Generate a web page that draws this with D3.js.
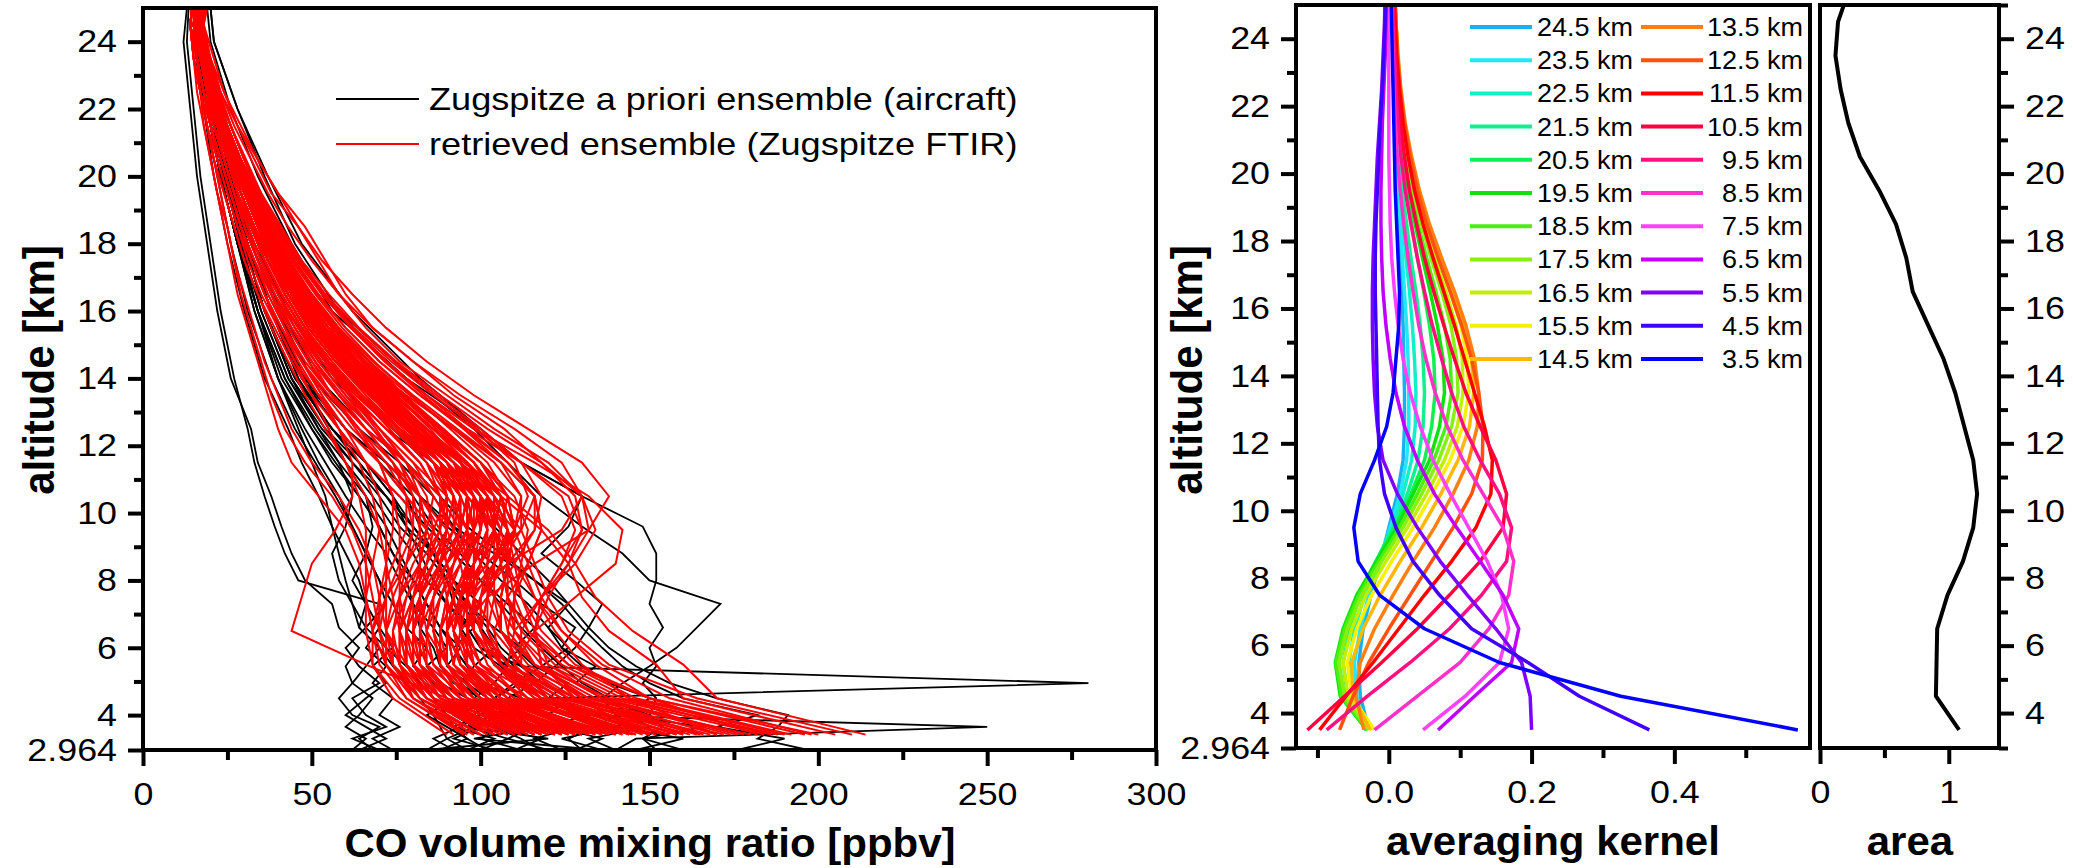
<!DOCTYPE html>
<html>
<head>
<meta charset="utf-8">
<script src="https://cdn.jsdelivr.net/npm/d3@7"></script>
<style>
  body { margin: 0; background: #fff; }
  svg { display: block; }
  text { font-family: "Liberation Sans", Arial, sans-serif; fill: #000; }
  .tick text { font-size: 32px; }
  .tl { transform-box: fill-box; transform: scaleX(1.12); }
  .title { font-size: 40px; font-weight: bold; }
</style>
</head>
<body>
<svg id="chart"></svg>
<script>
let width = 2073,
  height = 868;

let svg = d3.select("#chart").attr("width", width).attr("height", height);

// ---------- data ----------
// retrieved profiles (Zugspitze FTIR), ppbv on retrieval levels
const retrAlt = [3.42, 4.5, 5.5, 6.5, 7.5, 8.5, 9.5, 10.5, 11.5, 12.5, 13.5, 14.5, 15.5, 16.5, 17.5, 18.5, 19.5, 20.5, 21.5, 22.5, 23.5, 24.5, 25.5];
const retrieved = [
  [214,170,160,145,134,128,120,108,95,82,70,60,52,45,40,35,31,27,23,20,18,16,18],
  [205,160,152,138,130,126,118,106,94,80,68,58,50,44,38,34,30,26,22,20,17,16,17],
  [196,150,128,118,112,108,104,96,86,74,64,55,48,42,37,33,29,25,22,19,17,15,17],
  [188,140,120,110,104,100,96,90,80,70,60,52,46,40,35,31,28,25,21,19,17,15,16],
  [180,132,112,104,98,96,92,86,78,68,58,50,44,38,34,30,27,24,21,18,16,15,16],
  [172,128,108,100,96,94,90,82,72,62,54,47,41,36,32,29,26,23,20,18,16,14,16],
  [165,124,106,98,94,90,86,78,70,60,52,45,40,35,31,28,25,22,20,17,16,14,15],
  [160,118,100,94,92,90,88,82,74,64,55,47,41,36,32,28,25,22,19,17,15,14,15],
  [155,114,98,92,90,88,84,76,66,58,50,44,39,34,30,27,24,21,19,17,15,14,15],
  [150,110,96,92,94,96,94,88,78,66,56,48,42,37,33,29,26,23,20,18,16,15,16],
  [145,108,94,90,92,98,102,98,88,76,64,54,46,40,35,31,27,24,21,19,17,15,17],
  [140,106,94,92,96,104,110,106,96,82,70,59,50,43,37,32,28,25,22,19,17,15,17],
  [136,104,92,90,94,102,112,116,106,92,78,65,55,47,40,35,31,27,23,20,18,16,18],
  [132,100,90,88,90,94,100,102,96,86,74,63,54,46,40,35,30,26,23,20,17,16,17],
  [128,98,86,82,84,88,94,96,90,80,68,58,50,43,37,32,28,25,22,19,17,15,16],
  [126,96,84,80,80,82,84,82,76,68,60,52,45,39,34,30,27,24,21,18,16,14,15],
  [124,94,82,78,76,76,76,74,70,64,56,49,43,38,33,29,26,23,20,18,16,14,15],
  [122,92,80,76,74,72,70,66,60,54,48,43,38,34,30,27,24,21,19,17,15,14,15],
  [120,92,82,80,82,86,90,92,88,80,70,61,53,46,40,35,30,26,23,20,18,16,17],
  [118,90,80,78,80,84,88,88,82,72,62,54,47,41,36,32,28,25,22,19,17,15,16],
  [116,88,78,76,76,78,80,78,72,64,56,49,43,38,34,30,27,24,21,18,16,15,16],
  [114,88,80,80,84,90,96,98,92,82,72,62,53,46,40,35,31,27,23,20,18,16,17],
  [112,86,76,72,72,72,72,70,66,60,53,47,42,37,33,29,26,23,20,18,16,14,15],
  [110,86,78,76,78,82,84,82,76,68,59,51,45,40,35,31,28,25,22,19,17,15,16],
  [108,84,74,70,70,72,74,74,70,63,56,50,44,39,35,31,28,25,22,19,17,15,16],
  [106,84,76,74,76,80,86,90,88,80,70,60,52,45,39,34,30,26,23,20,18,16,17],
  [104,82,72,68,66,66,66,64,60,55,50,45,40,36,32,29,26,23,20,18,16,14,15],
  [102,84,78,78,82,88,94,96,90,80,69,59,51,44,38,33,29,26,22,19,17,15,16],
  [100,80,72,70,72,76,80,80,76,69,61,54,47,41,36,32,28,25,22,19,17,15,16],
  [98,80,74,74,78,84,90,92,86,76,66,57,49,43,37,33,29,26,22,20,17,15,16],
  [96,78,70,68,70,74,78,78,74,66,58,51,45,40,35,31,28,25,22,19,17,15,16],
  [95,78,72,72,76,82,88,90,84,74,64,56,48,42,37,32,29,25,22,19,17,15,16],
  [92,76,68,66,66,68,70,68,64,58,52,46,41,36,32,29,26,23,20,18,16,14,15],
  [90,74,68,68,72,78,84,86,80,70,61,53,46,40,35,31,27,24,21,18,16,15,15],
  [150,120,110,108,110,114,118,116,108,96,84,72,62,53,46,40,34,30,26,22,19,17,18],
  [142,118,108,110,118,128,134,130,118,102,88,75,64,55,47,41,35,30,26,22,19,17,18],
  [160,130,118,116,120,126,130,126,112,96,82,70,60,52,45,39,34,29,25,22,19,17,18],
  [176,136,120,116,118,124,128,124,112,98,84,72,62,53,46,40,34,29,25,22,19,17,18],
  [130,100,90,90,96,108,124,130,124,110,94,80,68,58,50,43,37,32,27,23,20,17,19],
  [124,100,92,94,102,116,132,138,130,114,98,84,72,62,53,46,40,34,29,24,21,18,20],
  [112,90,66,44,47,50,57,62,62,58,53,47,42,38,34,30,27,24,21,19,17,15,16],
  [150,128,118,116,118,124,130,128,118,107,92,80,68,60,54,48,40,34,28,24,20,18,19],
  [140,120,112,112,118,126,132,130,120,104,90,76,66,58,52,46,38,33,28,23,20,17,19],
  [134,106,96,94,96,100,104,102,94,82,70,60,51,44,38,34,30,26,23,20,18,16,17],
  [146,112,100,96,96,98,98,94,86,75,64,55,48,42,37,33,29,26,22,20,17,15,16],
  [168,126,108,100,98,98,98,94,86,74,63,54,47,41,36,32,28,25,22,19,17,15,16],
  [184,138,116,106,102,102,102,98,88,76,65,56,48,42,37,32,28,25,22,19,17,15,16],
  [200,150,126,114,108,106,104,98,88,76,65,55,47,41,36,32,28,25,22,19,17,15,16],
  [210,164,138,126,120,116,112,104,92,79,67,57,49,43,38,33,29,26,22,20,17,16,17],
  [192,146,126,116,112,110,108,102,92,80,69,59,51,44,38,34,30,26,23,20,18,16,17],
  [120,96,88,86,88,92,96,96,90,80,70,60,52,45,39,34,30,26,23,20,18,16,17],
  [138,104,90,84,82,82,82,80,74,66,58,51,44,39,34,31,27,24,21,19,17,15,16],
  [108,86,80,80,84,90,98,102,96,86,75,64,55,47,41,36,31,27,24,21,18,16,17],
  [156,120,104,98,98,100,104,104,98,88,76,65,56,48,42,37,32,28,24,21,18,16,17],
  [100,82,76,76,80,86,92,94,88,78,68,58,50,44,38,34,30,26,23,20,17,15,16],
  [130,112,110,116,128,140,142,132,116,98,84,72,62,53,46,40,34,30,26,22,19,17,18],
  [98,80,72,68,66,64,60,52,44,40,37,34,31,28,26,24,22,20,18,16,15,14,15],
  [104,84,74,70,68,66,62,56,48,42,38,35,32,29,27,25,22,20,18,17,15,14,15],
  [110,88,78,72,70,68,64,58,50,44,40,36,33,30,27,25,23,21,19,17,15,14,15],
  [128,102,94,92,94,98,102,100,92,80,69,59,50,43,37,33,29,25,22,19,17,15,16],
  [144,114,104,100,102,106,108,104,94,82,70,60,51,44,38,33,29,25,22,19,17,15,16],
  [118,94,86,84,86,90,94,94,88,78,68,58,50,43,38,33,29,26,22,19,17,15,16],
  [162,124,108,102,102,104,106,102,92,80,68,58,50,43,37,33,29,25,22,19,17,15,16],
  [174,134,116,108,106,108,110,106,96,84,72,61,52,45,39,34,30,26,23,20,17,15,16],
  [112,90,84,84,88,94,100,100,94,84,73,62,53,46,40,35,30,26,23,20,17,15,16],
  [126,100,90,86,86,88,90,88,82,72,62,53,46,40,35,31,27,24,21,19,17,15,16],
  [138,108,98,94,94,96,98,96,88,78,67,57,49,43,37,33,29,25,22,19,17,15,16],
  [152,118,104,98,96,96,96,92,84,74,64,55,48,42,37,33,29,25,22,19,17,15,16],
  [104,84,78,78,82,88,94,96,92,83,73,63,54,47,41,36,31,27,24,20,18,16,17],
  [132,106,98,96,100,106,112,112,104,92,79,67,57,49,42,37,32,28,24,21,18,16,17],
  [186,142,122,112,108,106,104,98,90,78,67,57,49,43,37,33,29,25,22,19,17,15,16],
  [116,92,84,82,84,88,90,88,82,73,64,55,48,42,37,33,29,25,22,19,17,15,16],
  [146,116,106,104,108,114,118,116,106,93,80,68,58,50,43,37,32,28,24,21,18,16,17],
  [122,98,90,88,90,94,98,98,92,82,71,61,52,45,39,34,30,26,23,20,17,15,16],
  [100,82,74,72,74,78,82,82,78,70,62,54,47,41,36,32,28,25,22,19,17,15,16],
  [198,156,136,124,116,110,104,96,86,74,63,54,47,41,36,32,28,25,22,19,17,15,16],
  [182,150,134,124,118,114,110,102,92,80,68,58,50,43,38,33,29,26,22,19,17,15,16],
  [170,144,130,122,116,112,108,100,90,78,67,57,49,43,37,33,29,25,22,19,17,15,16],
  [158,122,106,100,100,104,108,106,98,86,74,63,54,47,41,36.5,32,28,24.5,21,18.5,16.5,17.5],
  [142,110,98,94,94,96,98,96,90,80,70,61,53,46.5,40.5,35.5,31,27,23.5,20.5,18,16,17],
  [134,104,94,92,94,98,102,102,96,86,75,65,56,48.5,42,36.5,32,27.5,24,21,18.5,16.5,17.5],
  [126,98,88,86,88,92,96,96,90,81,71,62,54,47,41,36,31.5,27.5,24,21,18.5,16.5,17.5],
  [164,128,112,106,106,108,110,108,100,88,76,66,57,49.5,43,37.5,33,28.5,25,21.5,19,17,18],
  [178,136,118,110,108,108,108,104,96,84,73,63,55,48,42,37,32.5,28.5,25,21.5,19,17,18],
  [112,90,82,80,82,86,90,90,86,78,69,60,52.5,46,40.5,35.5,31,27,23.5,20.5,18,16,17],
  [106,86,80,80,84,90,96,98,94,85,75,65.5,57,49.5,43,37.5,32.5,28.5,24.5,21.5,18.5,16.5,17.5],
  [118,94,86,84,86,90,94,94,88,79,69.5,60.5,52.5,45.5,39.5,34.5,30.5,26.5,23,20.5,18,16,17],
  [148,116,104,100,102,106,110,108,100,88,76.5,66,57,49,42.5,37,32.5,28.5,24.5,21.5,19,17,18],
  [138,108,98,96,98,104,110,112,106,95,83,71.5,61.5,53,45.5,39.5,34.5,30,26,22.5,19.5,17.5,18.5],
  [122,98,90,90,94,100,106,108,102,91,79.5,68.5,59,51,44,38.5,33.5,29,25,22,19,17,18],
  [130,102,92,90,92,96,100,100,94,84,73.5,63.5,55,47.5,41.5,36,31.5,27.5,24,21,18.5,16.5,17.5],
  [154,120,106,100,100,102,104,102,94,83,72,62,53.5,46.5,40.5,35.5,31,27,23.5,20.5,18,16,17],
  [166,130,114,106,104,104,104,100,92,80,69.5,60,52,45,39.5,34.5,30.5,26.5,23,20.5,18,16,17],
  [102,84,78,78,80,84,88,88,84,76,67.5,59,51.5,45,39.5,34.5,30.5,26.5,23,20,17.5,15.5,16.5],
  [114,92,84,82,82,84,86,84,78,70,62,54.5,48,42,37,32.5,29,25.5,22.5,19.5,17.5,15.5,16.5],
  [128,104,96,94,96,100,104,104,98,88,77.5,67,58,50,43.5,38,33,29,25,21.5,19,17,18],
  [140,112,102,98,98,100,102,100,92,81,70.5,61,52.5,45.5,39.5,35,30.5,26.5,23,20,17.5,15.5,16.5],
  [120,96,88,88,92,98,104,106,100,89,77.5,67,57.5,49.5,43,37.5,32.5,28.5,24.5,21.5,18.5,16.5,17.5],
  [110,88,82,82,86,92,98,100,94,84,73.5,63.5,55,47.5,41,36,31.5,27.5,23.5,20.5,18,16,17],
  [96,80,76,76,80,86,92,94,90,81,71.5,62,53.5,46.5,40.5,35.5,31,27,23.5,20.5,18,16,17],
  [136,106,94,90,90,92,94,92,86,77,67.5,58.5,50.5,44,38.5,34,30,26,22.5,19.5,17.5,15.5,16.5],
  [150,118,106,102,104,110,116,116,108,95,82,70,60,51.5,44.5,38.5,33.5,29,25,21.5,19,17,18],
  [190,144,124,114,110,108,106,100,90,79,68,58.5,50.5,44,38.5,34,30,26,22.5,19.5,17.5,15.5,16.5],
  [124,100,92,90,92,96,100,98,92,82,72,62.5,54,47,41,36,31.5,27.5,24,21,18.5,16.5,17.5],
  [116,94,88,88,92,98,104,104,98,87,76,65.5,56.5,48.5,42,36.5,32,28,24,21,18.5,16.5,17.5],
  [132,104,94,92,94,98,104,106,100,89,77,66,56.5,48.5,42,36.5,32,28,24,21,18.5,16.5,17.5],
  [104,86,80,80,82,86,90,90,86,78,69,60.5,53,46.5,40.5,35.5,31,27,23.5,20.5,18,16,17],
  [144,112,100,96,96,98,100,98,90,79,68.5,59,51,44.5,39,34.5,30.5,26.5,23,20,17.5,15.5,16.5],
  [158,126,112,106,106,108,110,106,98,86,74.5,64,55,47.5,41.5,36.5,32,28,24,21,18.5,16.5,17.5],
  [118,96,90,90,94,102,110,114,110,99,86,73.5,62.5,53.5,46,40,34.5,30,26,22.5,19.5,17.5,18.5],
  [126,102,96,96,100,108,116,118,112,100,87,74.5,63.5,54,46.5,40.5,35,30.5,26,22.5,19.5,17.5,18.5],
  [108,88,82,82,84,88,92,92,88,79,70,61,53,46,40,35,31,27,23.5,20.5,18,16,17],
  [170,132,116,110,110,112,114,110,100,88,76,65,56,48.5,42,37,32.5,28.5,24.5,21.5,19,17,18]
];

// a priori ensemble (aircraft), ppbv
const aprioriAlt = [2.964, 3.3, 3.65, 4.0, 4.5, 4.95, 5.45, 6.0, 6.6, 7.3, 8.0, 8.8, 9.6, 10.5, 11.5, 12.5, 14, 16, 18, 20, 22, 24, 26];
const apriori = [
  [62,66,60,64,68,62,66,70,64,62,60,58,56,54,50,46,40,34,29,24,20,16,17],
  [70,62,72,66,62,70,64,60,66,62,58,56,60,62,58,52,44,36,30,25,20,16,17],
  [74,68,76,70,74,68,72,66,70,66,62,66,68,66,60,55,46,38,31,25,20,16,17],
  [64,72,66,60,66,72,68,74,70,70,46,42,39,36,33,31,27,23,20,17,15,13,14],
  [96,90,88,86,82,78,74,70,64,66,64,60,56,52,47,43,36,30,25,21,18,15,16],
  [102,96,92,90,86,82,78,72,66,72,70,66,62,58,52,47,40,33,28,23,19,16,17],
  [118,112,104,108,118,280,112,100,96,92,90,86,80,72,62,54,44,36,30,25,20,17,18],
  [140,146,250,132,124,116,110,104,100,96,92,86,80,72,64,56,46,38,31,25,20,17,18],
  [130,126,134,140,136,142,150,158,164,171,150,142,130,118,108,98,80,58,45,36,28,21,19],
  [152,148,154,150,152,148,152,150,154,150,152,152,148,130,112,100,82,62,47,37,28,21,19],
  [96,104,92,100,96,88,84,90,86,80,76,72,66,60,54,48,40,33,28,23,19,16,17],
  [104,92,100,94,102,96,90,94,88,84,80,74,70,64,56,50,42,34,28,23,19,16,17],
  [110,118,104,112,106,100,96,92,98,90,84,80,74,68,60,52,43,35,29,24,20,17,17],
  [120,108,116,110,104,112,106,98,94,100,92,86,78,72,64,54,44,36,30,24,20,17,18],
  [128,136,122,130,118,112,106,112,104,96,90,84,76,70,62,53,43,35,29,24,19,16,17],
  [88,96,90,84,92,86,80,84,78,74,70,66,62,57,51,45,38,31,26,22,18,16,16],
  [136,124,140,128,120,126,116,110,116,108,100,92,84,76,66,56,45,36,30,25,20,17,18],
  [146,160,140,150,136,128,134,124,120,126,116,104,92,82,72,60,47,38,31,25,20,17,18],
  [160,148,166,142,150,138,130,124,128,118,110,100,90,82,72,60,48,38,31,25,20,17,18],
  [176,190,170,182,160,150,142,136,130,124,116,106,96,88,78,66,52,41,32,26,21,17,18],
  [197,182,188,191,170,156,146,138,132,126,120,112,104,96,86,72,56,43,33,26,21,17,18],
  [84,90,98,92,100,94,98,104,100,94,90,86,82,78,70,60,48,38,31,25,20,17,17],
  [92,86,94,100,108,116,122,128,132,136,128,118,126,130,112,100,78,56,44,34,26,20,18],
  [112,100,106,98,104,110,118,126,120,114,106,98,92,86,76,64,50,40,32,26,21,17,18],
  [100,108,96,104,98,104,108,100,96,90,86,82,78,74,66,58,47,38,31,25,20,17,17],
  [124,116,128,120,126,118,112,106,102,96,90,86,80,74,66,56,45,36,30,24,20,17,17],
  [84,120,96,108,100,92,88,86,82,80,78,74,70,64,57,50,41,34,28,23,19,16,17],
  [135,98,118,104,112,100,96,92,88,84,80,76,72,66,58,51,42,34,28,23,19,16,17],
  [68,64,70,62,58,62,60,64,58,56,48,44,41,38,34,32,26,22,19,16,14,12,14],
  [140,132,150,144,138,130,124,118,112,106,100,94,86,80,70,60,48,38,31,25,20,17,18]
];

// averaging kernel rows, one per nominal altitude
const akAlt = [3.5, 4.5, 5.5, 6.5, 7.5, 8.5, 9.5, 10.5, 11.5, 12.5, 13.5, 14.5, 15.5, 16.5, 17.5, 18.5, 19.5, 20.5, 21.5, 22.5, 23.5, 24.5, 25.5];
const akNames = ["24.5 km", "23.5 km", "22.5 km", "21.5 km", "20.5 km", "19.5 km", "18.5 km", "17.5 km", "16.5 km", "15.5 km", "14.5 km",
  "13.5 km", "12.5 km", "11.5 km", "10.5 km", "9.5 km", "8.5 km", "7.5 km", "6.5 km", "5.5 km", "4.5 km", "3.5 km"];
const akColors = ["#1ab0f0", "#20e8f8", "#10f0c8", "#10f090", "#10f050", "#10e010", "#48f010", "#88f010", "#c0f000", "#f8f000", "#ffb800",
  "#ff8010", "#ff5010", "#ff0000", "#ff0040", "#ff1080", "#ff30c8", "#ff40ff", "#c000ff", "#8000ff", "#4000ff", "#0000ff"];
const akRows = [
  [-0.028,-0.040,-0.042,-0.036,-0.025,-0.012,0.000,0.012,0.020,0.022,0.022,0.021,0.020,0.018,0.016,0.014,0.012,0.010,0.008,0.007,0.006,0.005,0.004],
  [-0.030,-0.045,-0.048,-0.040,-0.028,-0.013,0.002,0.016,0.025,0.028,0.028,0.027,0.025,0.022,0.019,0.016,0.013,0.011,0.009,0.007,0.006,0.005,0.004],
  [-0.032,-0.052,-0.056,-0.048,-0.034,-0.016,0.004,0.020,0.032,0.037,0.038,0.036,0.033,0.029,0.024,0.020,0.016,0.013,0.010,0.008,0.007,0.006,0.005],
  [-0.032,-0.058,-0.064,-0.055,-0.040,-0.018,0.006,0.026,0.041,0.048,0.050,0.048,0.044,0.038,0.031,0.025,0.019,0.015,0.012,0.009,0.008,0.007,0.006],
  [-0.031,-0.064,-0.070,-0.060,-0.043,-0.018,0.008,0.031,0.050,0.060,0.065,0.063,0.057,0.049,0.040,0.032,0.025,0.019,0.015,0.011,0.009,0.008,0.007],
  [-0.031,-0.068,-0.075,-0.064,-0.045,-0.017,0.011,0.034,0.057,0.071,0.078,0.076,0.068,0.058,0.047,0.037,0.028,0.021,0.016,0.012,0.010,0.008,0.007],
  [-0.030,-0.066,-0.074,-0.062,-0.042,-0.014,0.015,0.040,0.063,0.080,0.088,0.086,0.078,0.066,0.053,0.041,0.031,0.023,0.017,0.013,0.010,0.008,0.007],
  [-0.028,-0.062,-0.070,-0.058,-0.038,-0.010,0.020,0.046,0.070,0.088,0.097,0.095,0.087,0.074,0.059,0.046,0.034,0.025,0.018,0.014,0.011,0.009,0.008],
  [-0.024,-0.057,-0.064,-0.052,-0.032,-0.004,0.026,0.053,0.078,0.096,0.104,0.103,0.094,0.080,0.064,0.050,0.037,0.027,0.020,0.015,0.012,0.010,0.008],
  [-0.020,-0.052,-0.058,-0.045,-0.024,0.004,0.034,0.061,0.086,0.104,0.112,0.110,0.101,0.086,0.069,0.053,0.040,0.029,0.021,0.016,0.012,0.010,0.008],
  [-0.026,-0.050,-0.052,-0.036,-0.012,0.016,0.046,0.073,0.097,0.113,0.119,0.116,0.106,0.090,0.073,0.056,0.042,0.031,0.022,0.016,0.012,0.010,0.008],
  [-0.035,-0.046,-0.040,-0.020,0.006,0.034,0.064,0.090,0.112,0.124,0.126,0.120,0.108,0.092,0.074,0.057,0.043,0.032,0.023,0.017,0.013,0.010,0.008],
  [-0.069,-0.050,-0.028,0.000,0.030,0.060,0.090,0.116,0.131,0.132,0.126,0.116,0.102,0.086,0.069,0.053,0.040,0.030,0.022,0.016,0.012,0.010,0.008],
  [-0.097,-0.060,-0.022,0.014,0.050,0.088,0.122,0.143,0.145,0.134,0.120,0.106,0.092,0.077,0.062,0.048,0.036,0.027,0.020,0.015,0.011,0.009,0.007],
  [-0.114,-0.062,-0.010,0.040,0.085,0.128,0.160,0.165,0.150,0.128,0.108,0.092,0.077,0.063,0.050,0.039,0.029,0.022,0.016,0.012,0.009,0.007,0.006],
  [-0.087,-0.030,0.030,0.085,0.130,0.165,0.172,0.155,0.128,0.105,0.088,0.074,0.061,0.050,0.040,0.031,0.023,0.017,0.013,0.010,0.008,0.006,0.005],
  [-0.020,0.040,0.100,0.140,0.168,0.175,0.160,0.132,0.104,0.082,0.065,0.052,0.042,0.034,0.027,0.021,0.016,0.012,0.009,0.007,0.006,0.005,0.004],
  [0.048,0.107,0.155,0.168,0.158,0.138,0.112,0.086,0.062,0.044,0.030,0.020,0.013,0.008,0.004,0.002,0.001,0.000,0.000,0.000,0.000,0.000,0.000],
  [0.069,0.120,0.172,0.182,0.160,0.128,0.095,0.064,0.040,0.022,0.010,0.002,-0.004,-0.008,-0.010,-0.011,-0.011,-0.010,-0.009,-0.007,-0.005,-0.004,-0.003],
  [0.200,0.198,0.186,0.150,0.110,0.072,0.040,0.012,-0.008,-0.016,-0.020,-0.022,-0.023,-0.023,-0.022,-0.020,-0.018,-0.016,-0.013,-0.010,-0.008,-0.006,-0.005],
  [0.365,0.267,0.195,0.116,0.071,0.034,0.010,-0.006,-0.013,-0.015,-0.016,-0.017,-0.018,-0.019,-0.019,-0.018,-0.016,-0.014,-0.012,-0.009,-0.007,-0.005,-0.004],
  [0.573,0.325,0.155,0.050,-0.013,-0.043,-0.049,-0.040,-0.020,-0.003,0.006,0.010,0.014,0.015,0.013,0.011,0.009,0.008,0.007,0.006,0.005,0.004,0.003]
];

// area of the averaging kernels
const areaVals = [1.08, 0.90, 0.905, 0.91, 0.99, 1.11, 1.19, 1.22, 1.19, 1.12, 1.05, 0.96, 0.84, 0.72, 0.67, 0.59, 0.46, 0.31, 0.22, 0.16, 0.12, 0.14, 0.23];

const yMajor = [4, 6, 8, 10, 12, 14, 16, 18, 20, 22, 24];
const yMinor = [5, 7, 9, 11, 13, 15, 17, 19, 21, 23];

// ---------- scales ----------
var yL = d3.scaleLinear().domain([2.964, 25]).range([750, 8]);
var yM = d3.scaleLinear().domain([2.964, 25]).range([748, 5]);
var xL = d3.scaleLinear().domain([0, 300]).range([143, 1156]);
var xM = d3.scaleLinear().domain([-0.13, 0.59]).range([1296, 1810]);
var xR = d3.scaleLinear().domain([0, 1.39]).range([1820, 1999]);

// clip paths
var defs = svg.append("defs");
function clip(id, x0, y0, x1, y1) {
  defs.append("clipPath").attr("id", id)
    .append("rect").attr("x", x0).attr("y", y0).attr("width", x1 - x0).attr("height", y1 - y0);
}
clip("clipL", 143, 8, 1156, 750);
clip("clipM", 1296, 5, 1810, 748);
clip("clipR", 1820, 5, 1999, 748);

// ---------- left panel: profiles ----------
var lineA = d3.line().x((d) => xL(d[0])).y((d) => yL(d[1]));

svg.append("g").attr("clip-path", "url(#clipL)")
  .selectAll("path")
  .data(apriori)
  .enter()
  .append("path")
  .attr("d", (p) => lineA(p.map((v, i) => [v, aprioriAlt[i]])))
  .attr("fill", "none")
  .attr("stroke", "black")
  .attr("stroke-width", 1.8);

svg.append("g").attr("clip-path", "url(#clipL)")
  .selectAll("path")
  .data(retrieved)
  .enter()
  .append("path")
  .attr("d", (p) => lineA(p.map((v, i) => [v, retrAlt[i]])))
  .attr("fill", "none")
  .attr("stroke", "#ff0000")
  .attr("stroke-width", 2);

// ---------- middle panel: averaging kernels ----------
var lineM = d3.line().x((d) => xM(d[0])).y((d) => yM(d[1]));
svg.append("g").attr("clip-path", "url(#clipM)")
  .selectAll("path")
  .data(akRows)
  .enter()
  .append("path")
  .attr("d", (r) => lineM(r.map((v, i) => [v, akAlt[i]])))
  .attr("fill", "none")
  .attr("stroke", (r, i) => akColors[i])
  .attr("stroke-width", 3.5)
  .attr("stroke-linejoin", "round");

// ---------- right panel: area ----------
var lineR = d3.line().x((d) => xR(d[0])).y((d) => yM(d[1]));
svg.append("g").attr("clip-path", "url(#clipR)")
  .append("path")
  .attr("d", lineR(areaVals.map((v, i) => [v, akAlt[i]])))
  .attr("fill", "none")
  .attr("stroke", "black")
  .attr("stroke-width", 4)
  .attr("stroke-linejoin", "round");

// ---------- frames ----------
function frame(x0, y0, x1, y1) {
  svg.append("rect").attr("x", x0).attr("y", y0).attr("width", x1 - x0).attr("height", y1 - y0)
    .attr("fill", "none").attr("stroke", "black").attr("stroke-width", 4);
}
frame(143, 8, 1156, 750);
frame(1296, 5, 1810, 748);
frame(1820, 5, 1999, 748);

// ---------- axes ----------
function fmtY(d) { return d === 2.964 ? "2.964" : d; }

function styleAxis(g, origin) {
  g.selectAll(".domain").remove();
  g.selectAll(".tick line").attr("stroke-width", 4);
  g.selectAll(".tick text").attr("class", "tl").style("transform-origin", origin);
}

function yAxis(x, scale, right, major, minor) {
  var mk = right ? d3.axisRight : d3.axisLeft;
  var g = svg.append("g").attr("transform", "translate(" + x + ",0)");
  g.append("g").call(mk(scale).tickValues(minor).tickSize(9).tickSizeOuter(0).tickFormat(""));
  g.append("g").call(mk(scale).tickValues(major).tickSize(15).tickPadding(11).tickSizeOuter(0).tickFormat(fmtY));
  styleAxis(g, right ? "0% 50%" : "100% 50%");
}

function xAxis(y, scale, major, minor, fmt) {
  var g = svg.append("g").attr("transform", "translate(0," + y + ")");
  g.append("g").call(d3.axisBottom(scale).tickValues(minor).tickSize(10).tickSizeOuter(0).tickFormat(""));
  g.append("g").call(d3.axisBottom(scale).tickValues(major).tickSize(16).tickPadding(16).tickSizeOuter(0).tickFormat(fmt));
  styleAxis(g, "50% 50%");
}

yAxis(143, yL, false, [2.964].concat(yMajor), yMinor);
yAxis(1296, yM, false, [2.964].concat(yMajor), yMinor);
yAxis(1999, yM, true, yMajor, yMinor.concat([2.964, 25]));

xAxis(750, xL, [0, 50, 100, 150, 200, 250, 300], [25, 75, 125, 175, 225, 275], (d) => d);
xAxis(748, xM, [0, 0.2, 0.4], [-0.1, 0.1, 0.3, 0.5], d3.format(".1f"));
xAxis(748, xR, [0, 1], [0.5], (d) => d);

// ---------- titles ----------
function title(txt, x, y, rot) {
  var t = svg.append("text").attr("class", "title").attr("text-anchor", "middle").text(txt);
  if (rot) t.attr("transform", "translate(" + x + "," + y + ") scale(1.05,1) rotate(-90)").style("font-size", "42px");
  else t.attr("x", x).attr("y", y).attr("class", "title tl").style("transform", "scaleX(1.05)").style("transform-origin", "50% 50%");
}
title("CO volume mixing ratio [ppbv]", 650, 857, false);
title("averaging kernel", 1553, 855, false);
title("area", 1910, 855, false);
title("altitude [km]", 54, 370, true);
title("altitude [km]", 1202, 370, true);

// ---------- legends ----------
var legL = [
  { label: "Zugspitze a priori ensemble (aircraft)", color: "black", y: 99 },
  { label: "retrieved ensemble (Zugspitze FTIR)", color: "#ff0000", y: 144 }
];
legL.forEach((e) => {
  svg.append("line").attr("x1", 336).attr("x2", 419).attr("y1", e.y).attr("y2", e.y)
    .attr("stroke", e.color).attr("stroke-width", 2);
  svg.append("text").attr("x", 429).attr("y", e.y + 11).attr("class", "tl")
    .style("font-size", "32px").style("transform", "scaleX(1.13)").style("transform-origin", "0% 50%")
    .text(e.label);
});

akNames.forEach((name, i) => {
  var col = i < 11 ? 0 : 1,
    row = i % 11,
    yy = 27 + row * 33.2;
  var lx = col === 0 ? 1470 : 1641,
    tx = col === 0 ? 1633 : 1803;
  svg.append("line").attr("x1", lx).attr("x2", lx + 62).attr("y1", yy).attr("y2", yy)
    .attr("stroke", akColors[i]).attr("stroke-width", 4);
  svg.append("text").attr("x", tx).attr("y", yy + 9).attr("text-anchor", "end").attr("class", "tl")
    .style("font-size", "25px").style("transform", "scaleX(1.08)").style("transform-origin", "100% 50%")
    .text(name);
});
</script>
</body>
</html>
